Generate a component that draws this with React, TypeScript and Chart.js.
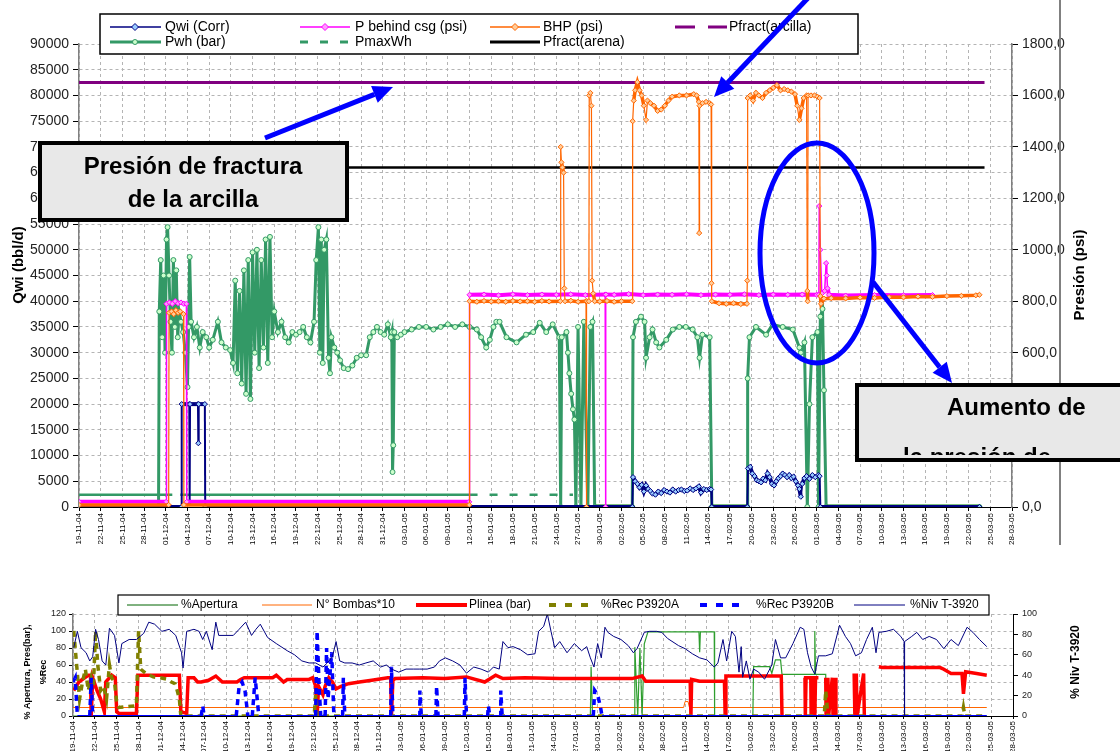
import React, { useEffect, useRef } from 'react';
import { Chart, registerables } from 'chart.js';
Chart.register(...registerables);

const FONT = "'Liberation Sans', Arial, Helvetica, sans-serif";
const BASE = Date.UTC(2004, 10, 19);

// ---------- top chart data: [day since 19-11-04, value] ----------
const qwiCorr = [[0,0],[14.15,0],[14.2,20000],[15.25,20000],[15.3,1000],[15.35,20000],[16.45,20000],[16.5,12400],[16.55,20000],[17.4,20000],[17.45,0],[76.5,0],[76.6,5800],[76.9,5000],[77.2,4500],[77.5,3800],[77.8,4300],[78.1,3000],[78.4,4200],[78.7,3500],[79.0,3100],[79.3,2600],[79.7,2400],[80.1,3000],[80.5,2700],[80.9,3300],[81.3,3000],[81.7,2800],[82.1,3400],[82.5,3000],[82.9,3300],[83.3,3400],[83.7,3100],[84.1,3200],[84.5,3600],[84.9,3300],[85.3,3600],[85.7,4000],[86.0,2800],[86.4,3500],[86.8,3300],[87.2,3500],[87.4,3400],[87.5,0],[92.4,0],[92.5,7500],[92.8,7800],[93.1,6500],[93.4,6000],[93.7,5200],[94.0,5000],[94.3,4800],[94.6,5500],[94.9,5200],[95.2,6500],[95.5,5800],[95.8,4500],[96.1,4200],[96.4,5000],[96.7,5600],[97.0,6000],[97.3,6500],[97.6,6200],[97.9,5800],[98.2,6200],[98.5,5600],[98.8,5900],[99.1,5000],[99.4,4200],[99.6,3500],[99.8,2000],[100.0,4500],[100.3,5600],[100.6,6000],[101.0,5500],[101.4,6200],[101.8,5800],[102.2,6200],[102.4,6000],[102.5,0],[124.5,0]];

const pBehindCsg = [[0,20],[12.05,20],[12.1,790],[12.5,795],[12.9,790],[13.3,800],[13.7,792],[14.1,795],[14.5,790],[14.85,790],[14.9,20],[53.95,20],[54.0,825],[56,826],[58,823],[60,827],[62,824],[64,826],[66,825],[68,827],[70,824],[72.75,826],[72.8,0],[72.85,826],[74,825],[76,828],[78,824],[80,826],[82,825],[84,827],[86,824],[88,826],[90,825],[92,827],[94,824],[96,826],[98,825],[100,826],[102,825],[102.3,826],[102.35,1170],[102.5,1000],[102.7,830],[103.1,840],[103.3,948],[103.4,900],[103.5,850],[103.7,825],[106,822],[110,824],[114,823],[118,824]];

const bhp = [[0,8],[12.4,8],[12.45,755],[12.8,760],[13.1,750],[13.4,765],[13.7,755],[14.0,760],[14.45,750],[14.5,8],[53.95,8],[54.0,800],[55,798],[56,801],[57,799],[58,800],[59,798],[60,801],[61,799],[62,800],[63,798],[64,801],[65,799],[66.55,800],[66.6,1400],[66.7,1340],[66.85,1320],[67.0,1300],[67.1,850],[67.2,800],[68,802],[69,798],[70.1,800],[70.15,0],[70.2,800],[70.5,800],[70.55,1600],[70.7,1610],[70.85,1560],[70.95,880],[71.1,830],[71.3,800],[72,799],[73,801],[74,798],[75,800],[76.5,800],[76.55,1500],[76.7,1580],[76.9,1620],[77.2,1652],[77.5,1620],[77.8,1600],[78.1,1560],[78.4,1505],[78.6,1580],[79.0,1570],[79.5,1560],[80.0,1540],[80.5,1545],[81.0,1560],[81.5,1580],[82.0,1595],[83.0,1600],[84.0,1600],[85.0,1605],[85.4,1600],[85.7,1575],[85.75,1065],[85.8,1560],[86.2,1570],[86.7,1575],[87.2,1570],[87.4,1565],[87.45,870],[87.5,800],[88.5,792],[89.5,790],[90.5,792],[91.5,789],[92.35,790],[92.4,880],[92.45,1590],[92.8,1600],[93.2,1580],[93.6,1610],[94,1600],[94.5,1590],[95,1610],[95.5,1620],[96,1630],[96.5,1640],[97,1620],[97.5,1625],[98,1620],[98.5,1615],[99,1605],[99.3,1560],[99.6,1505],[99.9,1550],[100.2,1590],[100.6,1600],[100.7,840],[100.75,800],[100.8,1600],[101.2,1600],[101.7,1600],[102.1,1595],[102.4,1590],[102.5,820],[102.6,790],[103,810],[104,812],[106,811],[108,814],[110,813],[112,816],[114,815],[116,818],[118,817],[120,820],[122,821],[124,823],[124.5,825]];

const pwh = [[0,0],[11.0,0],[11.1,38000],[11.3,48000],[11.5,33000],[11.7,45000],[11.9,30000],[12.1,52000],[12.25,54400],[12.45,45000],[12.65,36000],[12.85,30000],[13.05,48000],[13.25,35000],[13.45,46000],[13.65,33000],[13.85,38000],[14.1,36000],[14.4,34000],[14.7,30000],[15.0,23300],[15.15,35000],[15.3,48600],[15.5,36000],[15.9,33000],[16.3,35000],[16.7,31000],[17.1,34000],[17.6,33000],[18.0,31000],[18.5,32500],[19.2,36000],[19.7,32000],[20.3,31000],[20.9,30500],[21.3,28000],[21.6,44000],[21.9,26000],[22.2,42000],[22.5,24000],[22.8,46000],[23.1,22000],[23.4,48000],[23.7,21000],[24.0,49500],[24.3,30000],[24.6,50000],[24.9,27000],[25.2,48000],[25.5,31000],[25.8,52000],[26.1,28000],[26.4,52500],[26.7,33000],[27.0,38000],[27.5,34000],[28.0,36000],[28.5,33000],[29.0,32000],[29.5,34000],[30.0,33500],[30.5,34000],[31.0,35000],[31.5,33000],[32.0,32000],[32.5,36000],[32.8,48000],[33.1,54400],[33.3,30000],[33.5,52000],[33.7,28000],[33.9,50000],[34.2,52000],[34.5,29000],[34.7,26000],[34.9,33000],[35.3,31000],[35.7,30000],[36.1,28500],[36.6,27000],[37.2,26800],[37.8,27500],[38.4,29000],[39.0,29500],[39.7,29500],[40.2,33000],[40.7,34000],[41.2,35000],[41.7,34000],[42.2,33500],[42.7,35500],[43.1,33000],[43.25,34000],[43.35,6800],[43.45,12000],[43.6,34000],[44.0,33000],[44.5,33500],[45.0,34000],[46.0,34500],[47.0,35000],[48.0,35000],[49.0,34500],[50.0,35000],[51.0,35500],[52.0,35000],[53.0,35500],[54.0,35000],[55.0,34500],[55.6,33000],[56.3,31000],[56.8,32500],[57.3,35000],[57.7,36000],[58.15,36000],[59.1,33000],[60.5,32000],[61.8,33500],[62.8,34000],[63.7,35800],[64.6,34000],[65.5,35500],[66.4,33000],[66.6,0],[66.75,33000],[67.4,34000],[67.6,30000],[67.8,26000],[68.05,22000],[68.3,19000],[68.5,17000],[68.7,0],[69.0,35000],[69.4,0],[69.8,36000],[70.35,0],[70.7,35000],[71.0,36000],[71.3,0],[76.5,0],[76.6,33000],[77.0,36000],[77.7,37000],[78.2,36000],[78.4,29000],[78.9,33000],[79.3,34500],[79.8,32000],[80.25,31000],[81.2,32500],[82.1,34500],[83.0,35000],[83.9,35000],[84.85,34500],[85.5,33000],[85.8,29000],[86.2,33500],[87.2,33000],[87.5,0],[92.4,0],[92.45,25000],[92.7,33000],[93.6,35000],[95.0,33500],[95.9,35500],[97.3,35000],[98.7,34500],[99.6,31000],[99.8,30000],[100.3,32000],[100.7,0],[101.0,20000],[101.4,33000],[102.1,34000],[102.25,0],[102.5,37000],[102.8,38500],[103.0,22700],[103.3,0],[124.5,0]];

const pmaxWh = [[0,2400],[12.9,2400],[12.95,null],[14.0,2400],[54.0,2400],[68.3,2400]];
const pfractArcilla = [[0,1650],[125.2,1650]];
const pfractArena = [[0,1320],[125.2,1320]];

// ---------- bottom chart data ----------
const nivT3920 = [[0.1,67],[0.6,83],[1.1,67],[1.8,62],[2.3,54],[2.7,58],[3.1,85],[3.5,75],[4.0,54],[4.5,50],[5.0,86],[5.7,79],[6.3,52],[6.7,71],[7.7,75],[8.7,75],[9.7,81],[10.4,92],[11.2,90],[12.2,83],[13.2,85],[14.1,79],[14.9,62],[15.1,47],[15.6,83],[16.6,85],[17.3,83],[17.8,75],[18.3,83],[19.1,65],[19.6,92],[20.0,79],[21.0,79],[22.0,79],[22.8,85],[23.7,92],[24.5,79],[25.1,85],[25.7,90],[26.7,77],[27.9,71],[29.4,64],[30.4,60],[31.4,54],[32.4,52],[33.3,52],[34.3,48],[34.9,52],[35.6,58],[36.1,73],[36.6,54],[37.3,52],[38.3,52],[39.3,50],[40.2,52],[41.2,54],[42.2,48],[43.0,50],[43.7,46],[44.7,43],[45.7,46],[46.7,46],[47.6,46],[48.6,46],[49.6,48],[50.3,54],[51.1,57],[52.1,54],[53.1,50],[54.0,42],[55.0,48],[56.0,46],[57.0,43],[57.7,48],[58.5,46],[59.0,73],[59.7,67],[60.4,68],[61.4,65],[62.4,60],[63.4,61],[63.9,83],[64.6,88],[65.1,100],[65.6,83],[66.1,67],[66.8,73],[67.8,62],[68.8,71],[69.8,64],[70.5,68],[71.0,57],[71.5,48],[72.0,71],[72.5,57],[73.0,87],[73.4,82],[74.2,78],[75.2,75],[76.2,69],[76.9,62],[77.4,66],[78.4,82],[79.1,83],[80.1,83],[80.8,82],[81.6,76],[83.1,69],[84.0,66],[85.0,61],[86.0,57],[87.0,55],[88.0,48],[88.5,52],[89.2,75],[89.7,54],[90.4,83],[90.9,78],[91.4,43],[91.7,68],[91.9,38],[92.4,54],[92.9,36],[93.4,46],[94.1,43],[94.9,36],[95.9,50],[96.4,75],[97.1,57],[97.8,57],[98.8,71],[99.8,87],[100.3,85],[100.8,62],[101.3,48],[101.8,41],[102.3,59],[103.3,59],[104.2,61],[105.2,89],[106.0,78],[106.7,71],[107.4,59],[108.2,62],[108.9,75],[109.7,87],[110.2,62],[110.6,82],[111.6,83],[112.6,85],[113.6,78],[114.05,73],[114.1,0],[114.15,73],[115.1,78],[115.8,82],[116.6,75],[117.5,78],[118.5,75],[119.5,66],[120.5,75],[121.5,69],[122.7,87],[123.5,82],[124.4,75],[125.4,68]];

const plinea = [[0.1,30],[0.8,40],[1.6,45],[2.1,48],[2.4,48],[2.5,0],[2.7,45],[3.3,30],[3.8,20],[4.3,5],[4.5,40],[5.3,48],[5.8,45],[6.0,5],[6.3,3],[8.7,3],[8.9,48],[14.6,48],[14.8,5],[15.6,3],[15.8,45],[16.6,45],[17.1,40],[17.6,40],[18.6,42],[19.6,47],[20.5,40],[22.5,40],[23.0,43],[23.5,45],[27.4,45],[27.9,48],[28.9,40],[29.4,43],[32.4,43],[32.9,45],[33.3,35],[33.5,0],[33.7,35],[34.3,25],[34.6,35],[35.1,45],[35.6,40],[36.1,32],[36.8,35],[37.8,38],[39.3,40],[41,42],[43.2,45],[43.6,45],[43.7,0],[43.9,42],[44.2,44],[48,45],[51,44],[54.0,46],[56.5,40],[58.0,48],[59.0,44],[62,45],[66.8,44],[72,44],[76.7,44],[78.1,47],[78.6,41],[83.5,41],[84.7,41],[84.8,0],[84.9,43],[86.0,41],[89.0,41],[89.4,41],[89.5,0],[89.6,47],[96.4,47],[97.2,47],[97.3,0],[97.35,null],[100.2,null],[100.3,45],[100.45,45],[100.5,0],[100.6,45],[101.25,45],[101.3,0],[101.4,45],[101.75,45],[101.8,0],[101.9,45],[102.3,45],[102.35,null],[103.2,null],[103.3,45],[103.35,0],[103.5,0],[103.6,45],[103.7,0],[104.2,45],[104.3,0],[104.6,45],[104.7,0],[104.75,null],[107.1,null],[107.2,50],[107.3,0],[107.5,50],[107.6,0],[108.5,50],[108.6,0],[108.65,null],[110.5,null],[110.6,58],[111.1,57],[119.0,57],[119.5,55],[120.5,50],[122.0,50],[122.2,26],[122.5,52],[124.0,50],[125.4,48]];

const bombas10 = [[0,10],[83.8,10],[84.0,17],[84.4,17],[84.6,10],[125.4,10]];

const apertura = [[0,0],[71.0,0],[71.1,58],[71.3,0],[77.0,0],[77.1,81],[77.5,0],[77.8,80],[78.1,0],[78.4,85],[78.9,99],[85.9,99],[86.0,75],[86.1,99],[88.0,99],[88.05,0],[93.3,0],[93.4,58],[95.6,58],[95.9,50],[96.4,66],[97.1,66],[97.3,49],[101.7,49],[101.8,100],[101.9,49],[103.3,49],[103.35,0],[125.4,0]];

const recP3920A = [[0.1,100],[0.5,60],[0.9,20],[1.3,40],[1.7,55],[2.1,30],[2.5,45],[2.8,35],[3.1,100],[3.4,60],[3.8,30],[4.2,35],[4.6,20],[5.0,60],[5.3,45],[5.7,40],[6.0,15],[6.3,10],[8.7,12],[9.0,100],[9.3,55],[10,50],[11,46],[12,45],[13,43],[13.5,40],[14,38],[14.3,30],[14.6,20],[14.8,0],[33.1,0],[33.3,25],[33.5,0],[103.1,0],[103.3,30],[103.5,10],[103.6,0],[122.0,0],[122.2,10],[122.4,0],[125.4,0]];

const recP3920B = [[0,40],[0.3,45],[0.6,0],[2.3,0],[2.5,45],[2.7,0],[17.6,0],[17.8,12],[18.0,0],[22.4,0],[22.8,35],[23.2,40],[23.6,30],[24.0,0],[24.6,0],[25.0,45],[25.5,0],[33.3,0],[33.5,100],[33.8,30],[34.0,0],[34.6,0],[34.8,80],[35.0,20],[35.5,75],[35.8,0],[37.0,0],[37.1,45],[37.3,0],[43.6,0],[43.7,58],[43.9,0],[47.5,0],[47.6,30],[47.8,0],[49.8,0],[49.9,35],[50.1,0],[53.7,0],[53.8,45],[54.0,0],[56.9,0],[57.0,12],[57.2,0],[58.6,0],[58.7,30],[58.9,0],[71.4,0],[71.6,30],[72.0,25],[72.4,10],[72.6,0],[125.4,0]];

const topLegend = [
  ['Qwi (Corr)', 'P behind csg (psi)', 'BHP (psi)', 'Pfract(arcilla)'],
  ['Pwh (bar)', 'PmaxWh', 'Pfract(arena)'],
];
const bottomLegend = ['%Apertura', 'N° Bombas*10', 'Plinea (bar)', '%Rec P3920A', '%Rec P3920B', '%Niv T-3920'];

// ---------- helpers ----------
const pts = (a: any[]) => a.map(([x, y]) => ({ x, y }));
const fmtDay = (d: number) => {
  const dt = new Date(BASE + Math.round(d) * 86400000);
  const dd = String(dt.getUTCDate()).padStart(2, '0');
  const mm = String(dt.getUTCMonth() + 1).padStart(2, '0');
  const yy = String(dt.getUTCFullYear()).slice(2);
  return `${dd}-${mm}-${yy}`;
};
const segW = (flat: number, steep: number) => (c: any) => (Math.abs(c.p1.y - c.p0.y) > 12 ? steep : flat);

function arrow(ctx: CanvasRenderingContext2D, x1: number, y1: number, x2: number, y2: number) {
  const a = Math.atan2(y2 - y1, x2 - x1);
  const head = 20, hw = 9;
  const bx = x2 - head * Math.cos(a), by = y2 - head * Math.sin(a);
  ctx.beginPath(); ctx.moveTo(x1, y1); ctx.lineTo(bx, by); ctx.lineWidth = 5; ctx.stroke();
  ctx.beginPath(); ctx.moveTo(x2, y2);
  ctx.lineTo(bx + hw * Math.sin(a), by - hw * Math.cos(a));
  ctx.lineTo(bx - hw * Math.sin(a), by + hw * Math.cos(a));
  ctx.closePath(); ctx.fill();
}
function lline(ctx: CanvasRenderingContext2D, x1: number, x2: number, y: number, color: string, w: number, dash: number[] = []) {
  ctx.save(); ctx.strokeStyle = color; ctx.lineWidth = w; ctx.setLineDash(dash);
  ctx.beginPath(); ctx.moveTo(x1, y); ctx.lineTo(x2, y); ctx.stroke(); ctx.restore();
}
function diamond(ctx: CanvasRenderingContext2D, x: number, y: number, fill: string, stroke: string) {
  ctx.save(); ctx.fillStyle = fill; ctx.strokeStyle = stroke; ctx.lineWidth = 1;
  ctx.beginPath(); ctx.moveTo(x, y - 3.5); ctx.lineTo(x + 3.5, y); ctx.lineTo(x, y + 3.5); ctx.lineTo(x - 3.5, y); ctx.closePath();
  ctx.fill(); ctx.stroke(); ctx.restore();
}
function vtext(ctx: CanvasRenderingContext2D, t: string, x: number, y: number, font: string) {
  ctx.save(); ctx.translate(x, y); ctx.rotate(-Math.PI / 2); ctx.font = font; ctx.fillStyle = '#000';
  ctx.textAlign = 'center'; ctx.textBaseline = 'middle'; ctx.fillText(t, 0, 0); ctx.restore();
}

const topOverlay = {
  id: 'topOverlay',
  afterDraw(chart: any) {
    const ctx: CanvasRenderingContext2D = chart.ctx;
    ctx.save();
    // page frame line
    ctx.strokeStyle = '#808080'; ctx.lineWidth = 2;
    ctx.beginPath(); ctx.moveTo(1060, 0); ctx.lineTo(1060, 545); ctx.stroke();
    // axis titles
    vtext(ctx, 'Qwi (bbl/d)', 19, 265, `bold 15px ${FONT}`);
    vtext(ctx, 'Presión (psi)', 1080, 275, `bold 15px ${FONT}`);
    // legend
    ctx.fillStyle = '#fff'; ctx.fillRect(100, 14, 758, 40);
    ctx.strokeStyle = '#000'; ctx.lineWidth = 1.5; ctx.strokeRect(100, 14, 758, 40);
    ctx.font = `14px ${FONT}`; ctx.fillStyle = '#000'; ctx.textBaseline = 'middle'; ctx.textAlign = 'left';
    const r1 = 27, r2 = 42;
    lline(ctx, 110, 161, r1, '#000080', 1.5); diamond(ctx, 135, r1, '#99ccff', '#000080');
    ctx.fillText(topLegend[0][0], 165, r1);
    lline(ctx, 300, 350, r1, '#ff00ff', 1.5); diamond(ctx, 325, r1, '#ff99ff', '#ff00ff');
    ctx.fillText(topLegend[0][1], 355, r1);
    lline(ctx, 490, 540, r1, '#ff6600', 1.5); diamond(ctx, 515, r1, '#ffcc99', '#ff6600');
    ctx.fillText(topLegend[0][2], 543, r1);
    lline(ctx, 675, 727, r1, '#800080', 3, [20, 13]);
    ctx.fillText(topLegend[0][3], 729, r1);
    lline(ctx, 110, 161, r2, '#339966', 3);
    ctx.save(); ctx.fillStyle = '#ccffcc'; ctx.strokeStyle = '#339966'; ctx.lineWidth = 1;
    ctx.beginPath(); ctx.arc(135, r2, 2.5, 0, Math.PI * 2); ctx.fill(); ctx.stroke(); ctx.restore();
    ctx.fillText(topLegend[1][0], 165, r2);
    lline(ctx, 300, 350, r2, '#339966', 3, [8, 12]);
    ctx.fillText(topLegend[1][1], 355, r2);
    lline(ctx, 490, 540, r2, '#000', 3);
    ctx.fillText(topLegend[1][2], 543, r2);
    // annotation box 1
    ctx.fillStyle = '#e8e8e8'; ctx.fillRect(40, 143, 307, 77);
    ctx.strokeStyle = '#000'; ctx.lineWidth = 4; ctx.strokeRect(40, 143, 307, 77);
    ctx.fillStyle = '#000'; ctx.font = `bold 24px ${FONT}`; ctx.textAlign = 'center'; ctx.textBaseline = 'alphabetic';
    ctx.fillText('Presión de fractura', 193, 174);
    ctx.fillText('de la arcilla', 193, 207);
    // annotation box 2
    ctx.fillStyle = '#e8e8e8'; ctx.fillRect(857, 385, 270, 75);
    ctx.save(); ctx.beginPath(); ctx.rect(857, 385, 270, 70); ctx.clip();
    ctx.fillStyle = '#000'; ctx.textAlign = 'left';
    ctx.fillText('Aumento de', 947, 415);
    ctx.fillText('la presión de', 903, 465);
    ctx.restore();
    ctx.strokeStyle = '#000'; ctx.lineWidth = 4; ctx.strokeRect(857, 385, 270, 75);
    // blue marks
    ctx.strokeStyle = '#0000ff'; ctx.fillStyle = '#0000ff'; ctx.lineCap = 'butt';
    arrow(ctx, 265, 138, 393, 87);
    arrow(ctx, 808, -2, 714, 97);
    arrow(ctx, 873, 282, 952, 383);
    ctx.lineWidth = 5; ctx.beginPath(); ctx.ellipse(817, 253, 57, 110, 0, 0, Math.PI * 2); ctx.stroke();
    ctx.restore();
  },
};

const botOverlay = {
  id: 'botOverlay',
  afterDraw(chart: any) {
    const ctx: CanvasRenderingContext2D = chart.ctx;
    ctx.save();
    vtext(ctx, '% Apertura, Pres(bar),', 28, 87, `bold 9px ${FONT}`);
    vtext(ctx, '%Rec', 44, 87, `bold 9px ${FONT}`);
    vtext(ctx, '% Niv T-3920', 1076, 77, `bold 12px ${FONT}`);
    ctx.fillStyle = '#fff'; ctx.fillRect(118, 10, 871, 20);
    ctx.strokeStyle = '#000'; ctx.lineWidth = 1.2; ctx.strokeRect(118, 10, 871, 20);
    const y = 20;
    ctx.font = `12px ${FONT}`; ctx.fillStyle = '#000'; ctx.textBaseline = 'middle'; ctx.textAlign = 'left';
    lline(ctx, 127, 178, y, '#006400', 1); ctx.fillText(bottomLegend[0], 181, y);
    lline(ctx, 262, 312, y, '#ff6600', 1); ctx.fillText(bottomLegend[1], 316, y);
    lline(ctx, 416, 467, y, '#ff0000', 4); ctx.fillText(bottomLegend[2], 469, y);
    lline(ctx, 549, 590, y, '#808000', 4, [7, 9]); ctx.fillText(bottomLegend[3], 601, y);
    lline(ctx, 700, 742, y, '#0000ff', 4, [7, 9]); ctx.fillText(bottomLegend[4], 756, y);
    lline(ctx, 854, 905, y, '#000080', 1); ctx.fillText(bottomLegend[5], 910, y);
    ctx.restore();
  },
};

const gridCol = '#b4b4b4';

function topConfig(): any {
  const pointCommon = { pointStyle: 'rectRot', pointRadius: 2.6, pointBorderWidth: 1 };
  return {
    type: 'line',
    data: {
      datasets: [
        { label: 'BHP (psi)', data: pts(bhp), yAxisID: 'y1', borderColor: '#ff6600', pointBackgroundColor: '#ffcc99', pointBorderColor: '#ff6600', borderWidth: 2, ...pointCommon, segment: { borderWidth: segW(3.5, 1.2) } },
        { label: 'P behind csg (psi)', data: pts(pBehindCsg), yAxisID: 'y1', borderColor: '#ff00ff', pointBackgroundColor: '#ff99ff', pointBorderColor: '#ff00ff', borderWidth: 2, ...pointCommon, segment: { borderWidth: segW(4, 1.5) } },
        { label: 'Qwi (Corr)', data: pts(qwiCorr), yAxisID: 'y', borderColor: '#000080', pointBackgroundColor: '#99ccff', pointBorderColor: '#000080', borderWidth: 2, ...pointCommon, segment: { borderWidth: segW(4, 2) } },
        { label: 'Pwh (bar)', data: pts(pwh), yAxisID: 'y', borderColor: '#339966', pointBackgroundColor: '#ccffcc', pointBorderColor: '#339966', pointStyle: 'circle', pointRadius: 2.5, pointBorderWidth: 1, borderWidth: 3, segment: { borderColor: (c: any) => (c.p0.parsed.y === 0 && c.p1.parsed.y === 0 ? '#008000' : undefined), borderWidth: (c: any) => (c.p0.parsed.y === 0 && c.p1.parsed.y === 0 ? 5 : 3) } },
        { label: 'PmaxWh', data: pts(pmaxWh), yAxisID: 'y', borderColor: '#339966', borderWidth: 2.5, pointRadius: 0, segment: { borderDash: (c: any) => (c.p0.parsed.x >= 54 ? [8, 12] : []) } },
        { label: 'Pfract(arcilla)', data: pts(pfractArcilla), yAxisID: 'y1', borderColor: '#800080', borderWidth: 3, pointRadius: 0 },
        { label: 'Pfract(arena)', data: pts(pfractArena), yAxisID: 'y1', borderColor: '#000000', borderWidth: 2.5, pointRadius: 0 },
      ],
    },
    options: {
      animation: false, responsive: false, devicePixelRatio: 1, spanGaps: false,
      layout: { padding: { top: 44, left: 0, right: 0, bottom: 0 } },
      plugins: { legend: { display: false }, tooltip: { enabled: false } },
      scales: {
        x: {
          type: 'linear', min: 0, max: 129,
          afterFit: (s: any) => { s.height = 53; },
          ticks: { stepSize: 3, autoSkip: false, maxRotation: 90, minRotation: 90, padding: 2, color: '#000', font: { size: 8, family: FONT }, callback: (v: number) => fmtDay(v) },
          grid: { color: gridCol, tickColor: '#000', tickLength: 4 },
          border: { color: '#000', dash: [3, 3], width: 1 },
        },
        y: {
          position: 'left', min: 0, max: 90000,
          afterFit: (s: any) => { s.width = 79; },
          ticks: { stepSize: 5000, color: '#222', font: { size: 14, family: FONT }, padding: 4, callback: (v: number) => String(v) },
          grid: { color: gridCol, tickColor: '#000', tickLength: 6 },
          border: { color: '#808080', dash: [3, 3], width: 1.5 },
        },
        y1: {
          position: 'right', min: 0, max: 1800,
          afterFit: (s: any) => { s.width = 108; },
          ticks: { stepSize: 200, color: '#222', font: { size: 14, family: FONT }, padding: 4, callback: (v: number) => v.toFixed(1).replace('.', ',') },
          grid: { drawOnChartArea: false, tickColor: '#000', tickLength: 6 },
          border: { color: '#808080', width: 1.5 },
        },
      },
    },
    plugins: [topOverlay],
  };
}

function botConfig(): any {
  return {
    type: 'line',
    data: {
      datasets: [
        { label: '%Niv T-3920', data: pts(nivT3920), yAxisID: 'y1', borderColor: '#000080', borderWidth: 1, pointRadius: 0 },
        { label: '%Rec P3920B', data: pts(recP3920B), yAxisID: 'y', borderColor: '#0000ff', borderWidth: 3.5, pointRadius: 0, segment: { borderDash: (c: any) => (c.p0.parsed.y === 0 && c.p1.parsed.y === 0 ? [] : [6, 5]), borderWidth: (c: any) => (c.p0.parsed.y === 0 && c.p1.parsed.y === 0 ? 2 : 3.5) } },
        { label: '%Rec P3920A', data: pts(recP3920A), yAxisID: 'y', borderColor: '#808000', borderWidth: 3.5, borderDash: [6, 5], pointRadius: 0 },
        { label: 'Plinea (bar)', data: pts(plinea), yAxisID: 'y', borderColor: '#ff0000', borderWidth: 3.5, pointRadius: 0 },
        { label: '%Apertura', data: pts(apertura), yAxisID: 'y', borderColor: '#2e9e2e', borderWidth: 1.2, pointRadius: 0 },
        { label: 'N° Bombas*10', data: pts(bombas10), yAxisID: 'y', borderColor: '#ff6600', borderWidth: 1, pointRadius: 0 },
      ],
    },
    options: {
      animation: false, responsive: false, devicePixelRatio: 1, spanGaps: false,
      layout: { padding: { top: 29, left: 0, right: 0, bottom: 0 } },
      plugins: { legend: { display: false }, tooltip: { enabled: false } },
      scales: {
        x: {
          type: 'linear', min: 0, max: 129,
          afterFit: (s: any) => { s.height = 35; },
          ticks: { stepSize: 3, autoSkip: false, maxRotation: 90, minRotation: 90, padding: 2, color: '#000', font: { size: 8, family: FONT }, callback: (v: number) => fmtDay(v) },
          grid: { color: gridCol, tickColor: '#000', tickLength: 3 },
          border: { color: '#000', dash: [3, 3], width: 1 },
        },
        y: {
          position: 'left', min: 0, max: 120,
          afterFit: (s: any) => { s.width = 73; },
          ticks: { stepSize: 20, color: '#222', font: { size: 9, family: FONT }, padding: 3 },
          grid: { color: gridCol, tickColor: '#000', tickLength: 4 },
          border: { color: '#808080', dash: [3, 3], width: 1.5 },
        },
        y1: {
          position: 'right', min: 0, max: 100,
          afterFit: (s: any) => { s.width = 107; },
          ticks: { stepSize: 10, color: '#222', font: { size: 9, family: FONT }, padding: 4 },
          grid: { drawOnChartArea: false, tickColor: '#000', tickLength: 5 },
          border: { color: '#000', width: 1 },
        },
      },
    },
    plugins: [botOverlay],
  };
}

export default function App() {
  const topRef = useRef<HTMLCanvasElement>(null);
  const botRef = useRef<HTMLCanvasElement>(null);
  useEffect(() => {
    document.body.style.margin = '0';
    const c1 = new Chart(topRef.current as HTMLCanvasElement, topConfig());
    const c2 = new Chart(botRef.current as HTMLCanvasElement, botConfig());
    return () => { c1.destroy(); c2.destroy(); };
  }, []);
  return (
    <div style={{ position: 'relative', width: 1120, height: 751, background: '#fff', overflow: 'hidden' }}>
      <canvas ref={topRef} width={1120} height={560} style={{ position: 'absolute', left: 0, top: 0 }} />
      <canvas ref={botRef} width={1120} height={166} style={{ position: 'absolute', left: 0, top: 585 }} />
    </div>
  );
}
